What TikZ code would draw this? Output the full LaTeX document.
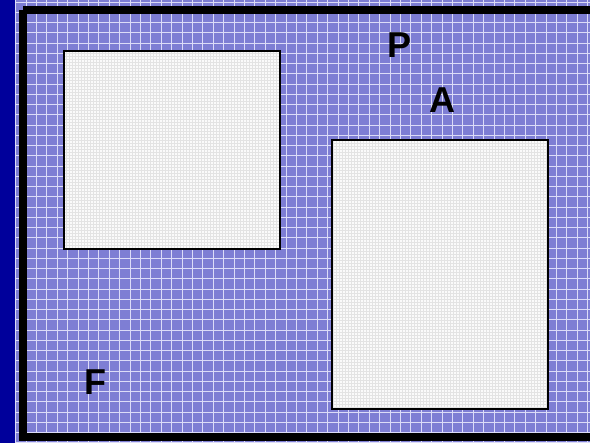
\documentclass[tikz,border=0pt]{standalone}
\usepackage{fontspec}
\setmainfont{Liberation Sans}
\usetikzlibrary{patterns}
\definecolor{darkstrip}{RGB}{0,0,155}
\definecolor{fieldblue}{RGB}{126,126,212}
\definecolor{gridline}{RGB}{220,220,248}
\tikzset{
 panel/.style={draw=black,line width=2pt,pattern=grid,pattern color=gray!22,inner sep=0pt,minimum width=216pt},
 letter/.style={font=\fontsize{36}{40}\selectfont\bfseries,anchor=base,inner sep=0pt}
}
\begin{document}
\begin{tikzpicture}[x=1pt,y=-1pt]
 \useasboundingbox (0,0) rectangle (590,443);
 \fill[fieldblue] (15,0) rectangle (590,443);
 \fill[darkstrip] (0,0) rectangle (15,443);
 \begin{scope}
  \clip (15,0) rectangle (590,443);
  \foreach \i in {-1,0,...,55}{ \draw[gridline,line width=0.8pt] (26+\i*10.4,0) -- (26+\i*10.4,443); }
  \foreach \j in {0,1,...,43}{ \draw[gridline,line width=0.8pt] (15,2+\j*10.25) -- (590,2+\j*10.25); }
 \end{scope}
 \draw[line width=8pt] (23,10) -- (600,10) (23,10) -- (23,437) -- (600,437);
 \fill[gray!4] (64,51) rectangle (280,249); \fill[gray!4] (332,140) rectangle (548,409);
 \node[panel,minimum height=198pt] (boxleft) at (172,150) {};
 \node[panel,minimum height=269pt] (boxright) at (440,274.5) {};
 \node[letter] (labelp) at (399.5,58) {P};
 \node[letter] (labela) at (442.5,113) {A};
 \node[letter] (labelf) at (95.5,395) {F};
\end{tikzpicture}
\end{document}
